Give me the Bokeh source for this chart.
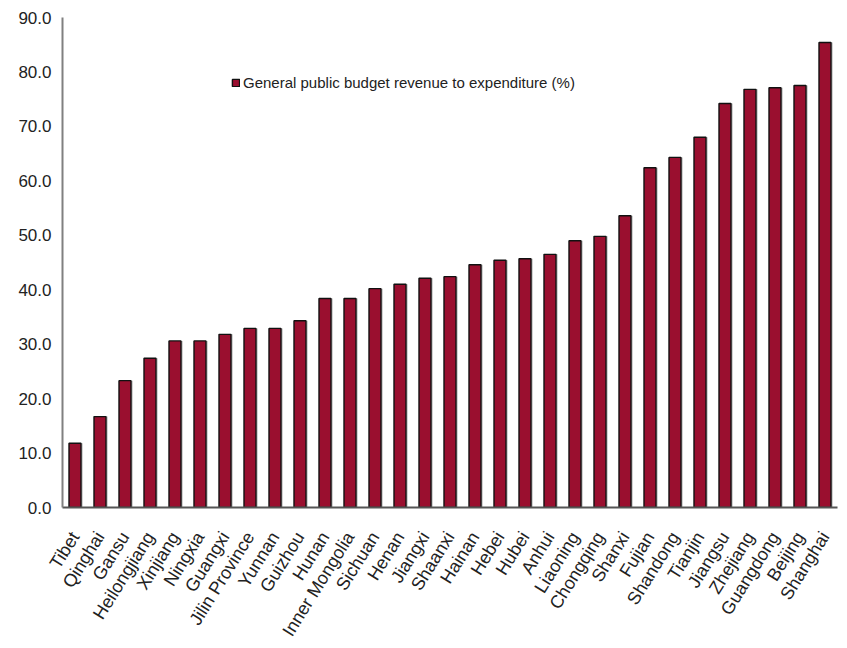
import math
from bokeh.plotting import figure
from bokeh.models import ColumnDataSource, FactorRange, Range1d, Legend, LegendItem, NumeralTickFormatter, FixedTicker
from bokeh.transform import dodge
from bokeh.embed import file_html
from bokeh.resources import INLINE

provinces = ["Tibet", "Qinghai", "Gansu", "Heilongjiang", "Xinjiang", "Ningxia", "Guangxi",
             "Jilin Province", "Yunnan", "Guizhou", "Hunan", "Inner Mongolia", "Sichuan", "Henan",
             "Jiangxi", "Shaanxi", "Hainan", "Hebei", "Hubei", "Anhui", "Liaoning", "Chongqing",
             "Shanxi", "Fujian", "Shandong", "Tianjin", "Jiangsu", "Zhejiang", "Guangdong",
             "Beijing", "Shanghai"]
ratio = [11.8, 16.7, 23.3, 27.4, 30.6, 30.6, 31.8, 32.9, 32.9, 34.3, 38.4, 38.4, 40.2, 41.0,
         42.1, 42.4, 44.6, 45.4, 45.7, 46.5, 49.0, 49.8, 53.6, 62.4, 64.3, 68.0, 74.2, 76.8,
         77.1, 77.5, 85.4]
y_ticks = [0, 10, 20, 30, 40, 50, 60, 70, 80, 90]
series_name = "General public budget revenue to expenditure (%)"

src = ColumnDataSource(dict(x=provinces, y=ratio))

p = figure(width=847, height=648, output_backend="svg", toolbar_location=None,
           x_range=FactorRange(factors=provinces, range_padding=0),
           y_range=Range1d(0, 90),
           min_border_left=62, min_border_right=10, min_border_top=17, min_border_bottom=141)
p.outline_line_color = None
p.xgrid.visible = False
p.ygrid.visible = False

p.vbar(x=dodge("x", 0.07, range=p.x_range), top="y", width=0.48, source=src,
       fill_color="#9a9a9a", fill_alpha=0.6, line_color=None)
r = p.vbar(x="x", top="y", width=0.48, source=src, fill_color="#9a0f2f",
           line_color="#111111", line_width=1.4)

font = "Liberation Sans"
p.yaxis.ticker = FixedTicker(ticks=y_ticks)
p.yaxis.formatter = NumeralTickFormatter(format="0.0")
p.yaxis.major_label_text_font = font
p.yaxis.major_label_text_font_size = "17px"
p.yaxis.major_label_text_color = "#222222"
p.yaxis.major_tick_line_color = None
p.yaxis.major_tick_out = 0
p.yaxis.minor_tick_line_color = None
p.yaxis.axis_line_color = "#808080"
p.yaxis.axis_line_width = 2
p.yaxis.major_label_standoff = 11

p.xaxis.major_label_text_font = font
p.xaxis.major_label_text_font_size = "18px"
p.xaxis.major_label_text_color = "#222222"
p.xaxis.major_label_orientation = 58 * math.pi / 180
p.xaxis.major_tick_line_color = None
p.xaxis.major_tick_out = 0
p.xaxis.axis_line_color = "#555555"
p.xaxis.axis_line_width = 2
p.xaxis.major_label_standoff = 26

legend = Legend(items=[LegendItem(label=series_name, renderers=[r])],
                location=(169, 416), background_fill_alpha=0, border_line_color=None,
                padding=0, margin=0, glyph_width=9, glyph_height=9, label_standoff=3,
                label_text_font=font, label_text_font_size="15px", label_text_color="#222222")
p.add_layout(legend, "center")

open("out.html", "w").write(file_html(p, INLINE))
